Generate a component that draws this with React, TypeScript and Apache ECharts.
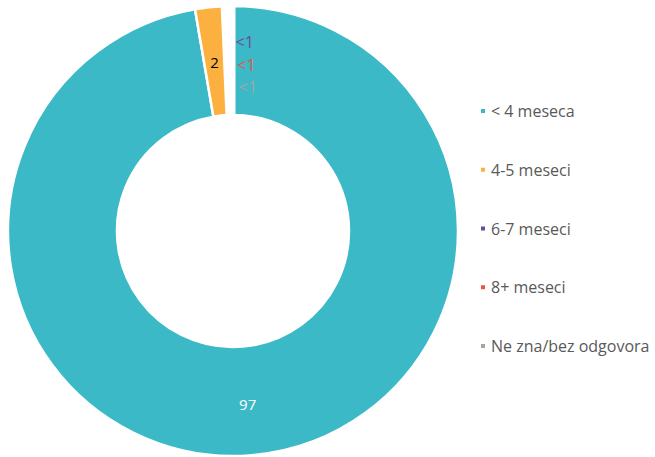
import React, { useEffect, useRef } from "react";
import * as echarts from "echarts";

const categories = ["< 4 meseca", "4-5 meseci", "6-7 meseci", "8+ meseci", "Ne zna/bez odgovora"];
const values = [97.3, 2, 0.25, 0.25, 0.2];
const labelTexts = ["97", "2", "<1", "<1", "<1"];
const colors = ["#3BB9C6", "#FBB040", "#6A4C9C", "#E8563F", "#A5A5A5"];
const labelColors = ["#FFFFFF", "#000000", "#6A4C9C", "#E8563F", "#A5A5A5"];
const labelSizes = [15, 15, 16, 16, 16];
const labelOffsets: [number, number][] = [
  [0, 0],
  [0, 4],
  [18, -16],
  [17, 7],
  [16, 29],
];
const borderWidths = [2.5, 2.5, 5, 5, 5];

export default function App() {
  const ref = useRef<HTMLDivElement>(null);
  useEffect(() => {
    if (!ref.current) return;
    const chart = echarts.init(ref.current, undefined, { renderer: "svg" });
    const font = "'Open Sans', 'Noto Sans', sans-serif";
    chart.setOption({
      animation: false,
      backgroundColor: "#FFFFFF",
      legend: {
        orient: "vertical",
        left: 474,
        top: 97,
        itemWidth: 6,
        itemHeight: 6,
        itemGap: 40.75,
        icon: "rect",
        selectedMode: false,
        textStyle: { fontFamily: font, fontSize: 16, color: "#595959", lineHeight: 18 },
        data: categories,
      },
      series: [
        {
          type: "pie",
          center: [233, 231],
          radius: [116, 225],
          startAngle: 90,
          clockwise: true,
          avoidLabelOverlap: false,
          emphasis: { disabled: true },
          data: categories.map((name, i) => ({
            name,
            value: values[i],
            itemStyle: { color: colors[i], borderColor: "#FFFFFF", borderWidth: borderWidths[i] },
            label: {
              show: true,
              position: "inside",
              formatter: labelTexts[i],
              color: labelColors[i],
              textBorderWidth: 0,
              fontFamily: font,
              fontSize: labelSizes[i],
              offset: labelOffsets[i],
            },
          })),
          labelLine: { show: false },
        },
      ],
    });
    return () => chart.dispose();
  }, []);
  return <div ref={ref} style={{ width: 655, height: 457, position: "absolute", left: 0, top: 0 }} />;
}
